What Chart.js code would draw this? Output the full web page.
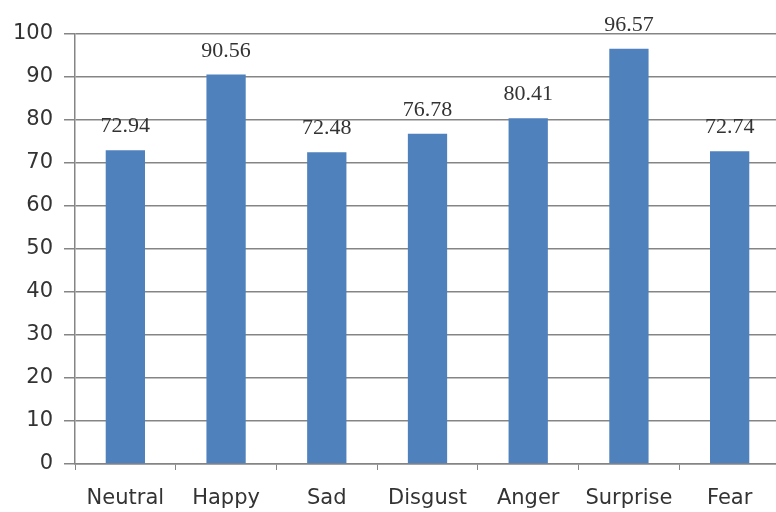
<!DOCTYPE html>
<html>
<head>
<meta charset="utf-8">
<script src="https://cdn.jsdelivr.net/npm/chart.js@4/dist/chart.umd.min.js"></script>
<style>
  html, body { margin: 0; padding: 0; background: #fff; overflow: hidden; }
  #wrap { width: 780px; height: 512px; }
</style>
</head>
<body>
<div id="wrap"><canvas id="c" width="780" height="512"></canvas></div>
<script>
// Recognition accuracy (%) per emotion class
const categories = ['Neutral', 'Happy', 'Sad', 'Disgust', 'Anger', 'Surprise', 'Fear'];
const accuracy = [72.94, 90.56, 72.48, 76.78, 80.41, 96.57, 72.74];
const yTicks = [0, 10, 20, 30, 40, 50, 60, 70, 80, 90, 100];

// Value labels printed above each bar
const valueLabels = {
  id: 'valueLabels',
  afterDatasetsDraw(chart) {
    const ctx = chart.ctx;
    const meta = chart.getDatasetMeta(0);
    ctx.save();
    ctx.font = '22px "Liberation Serif", "Times New Roman", serif';
    ctx.fillStyle = '#333';
    ctx.textAlign = 'center';
    ctx.textBaseline = 'alphabetic';
    meta.data.forEach((bar, i) => {
      const v = chart.data.datasets[0].data[i];
      ctx.fillText(v.toFixed(2), bar.x, bar.y - 18);
    });
    ctx.restore();
  }
};

new Chart(document.getElementById('c'), {
  type: 'bar',
  data: {
    labels: categories,
    datasets: [{
      data: accuracy,
      backgroundColor: '#4F81BD',
      borderWidth: 0,
      barPercentage: 0.78,
      categoryPercentage: 0.5
    }]
  },
  options: {
    responsive: false,
    animation: false,
    devicePixelRatio: 1,
    layout: { padding: { top: 34, right: 0, left: 0, bottom: 0 } },
    plugins: { legend: { display: false }, tooltip: { enabled: false } },
    scales: {
      x: {
        offset: true,
        grid: {
          offset: true,
          drawOnChartArea: false,
          drawTicks: true,
          tickLength: 6,
          color: '#858585',
          lineWidth: 1
        },
        border: { color: '#858585', width: 1.5 },
        ticks: {
          color: '#333',
          font: { family: '"DejaVu Sans", Verdana, sans-serif', size: 21 },
          padding: 16,
          maxRotation: 0,
          autoSkip: false
        },
        afterFit(scale) { scale.height = 48; }
      },
      y: {
        min: 0,
        max: 100,
        afterBuildTicks(scale) { scale.ticks = yTicks.map(v => ({ value: v })); },
        grid: {
          color: '#858585',
          lineWidth: 1.5,
          drawTicks: true,
          tickLength: 11
        },
        border: { color: '#858585', width: 1.5 },
        ticks: {
          color: '#333',
          font: { family: '"DejaVu Sans", Verdana, sans-serif', size: 21 },
          padding: 11
        },
        afterFit(scale) { scale.width = 75; }
      }
    }
  },
  plugins: [valueLabels]
});
</script>
</body>
</html>
